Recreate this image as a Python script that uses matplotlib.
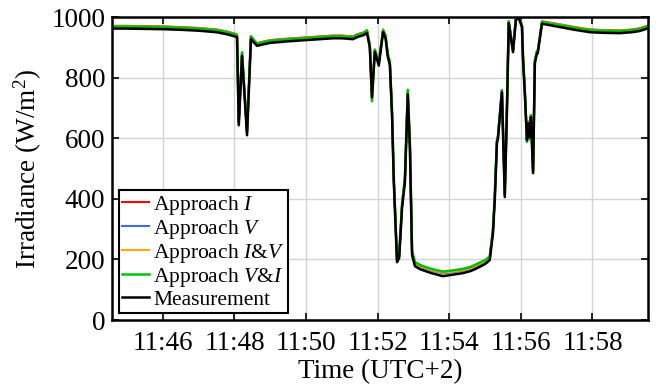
import matplotlib
matplotlib.use('Agg')
import matplotlib.pyplot as plt

plt.rcParams['font.family'] = ['Liberation Serif', 'DejaVu Serif']
plt.rcParams['mathtext.fontset'] = 'custom'
plt.rcParams['mathtext.rm'] = 'Liberation Serif'
plt.rcParams['mathtext.it'] = 'Liberation Serif:italic'

# time in minutes after 11:00 (UTC+2)
minutes = [44.58, 45.0, 45.5, 46.0, 46.5, 47.0, 47.5, 47.8, 48.07, 48.12,
           48.21, 48.35, 48.46, 48.55, 48.63, 48.8, 49.0, 49.5, 50.0, 50.75,
           51.0, 51.31, 51.45, 51.6, 51.7, 51.78, 51.84, 51.92, 52.03, 52.15,
           52.22, 52.28, 52.34, 52.4, 52.45, 52.54, 52.6, 52.68, 52.76, 52.84,
           52.9, 52.96, 53.04, 53.18, 53.5, 53.82, 54.1, 54.38, 54.6, 54.77,
           55.0, 55.13, 55.22, 55.27, 55.33, 55.36, 55.47, 55.55, 55.61, 55.66,
           55.78, 55.86, 55.94, 56.03, 56.06, 56.11, 56.17, 56.2, 56.25, 56.28,
           56.34, 56.39, 56.45, 56.47, 56.59, 57.09, 57.5, 57.93, 58.3, 58.77,
           59.1, 59.32, 59.55]

measurement = [962, 962, 961, 960, 958, 955, 950, 943, 934, 643,
               872, 610, 928, 915, 905, 910, 915, 920, 924, 930,
               930, 927, 935, 940, 948, 900, 735, 885, 840, 950,
               930, 870, 842, 677, 455, 191, 205, 370, 455, 745,
               568, 215, 178, 168, 155, 145, 150, 155, 162, 171,
               185, 198, 287, 396, 584, 600, 752, 406, 693, 980,
               884, 990, 997, 967, 858, 749, 594, 650, 604, 670,
               485, 848, 881, 880, 978, 967, 958, 950, 948, 947,
               950, 954, 963]

approach_i = [971, 971, 970, 969, 967, 964, 959, 952, 943, 652,
              882, 620, 937, 924, 914, 919, 924, 929, 933, 939,
              939, 936, 944, 949, 957, 908, 740, 893, 849, 959,
              939, 879, 851, 687, 465, 198, 212, 380, 465, 755,
              577, 224, 189, 179, 166, 157, 161, 166, 173, 182,
              195, 208, 297, 406, 592, 609, 760, 414, 702, 987,
              892, 997, 1000, 975, 866, 757, 600, 657, 610, 677,
              492, 856, 889, 888, 986, 976, 967, 959, 957, 956,
              959, 963, 972]

approach_v = [968, 968, 967, 966, 964, 961, 956, 949, 940, 648,
              878, 616, 934, 921, 911, 916, 921, 926, 930, 936,
              936, 933, 941, 946, 954, 905, 738, 890, 846, 956,
              936, 876, 848, 683, 461, 196, 210, 376, 461, 751,
              574, 221, 186, 176, 163, 154, 158, 163, 170, 179,
              192, 205, 293, 402, 590, 606, 758, 411, 699, 985,
              890, 995, 1000, 973, 864, 755, 598, 655, 608, 675,
              490, 854, 887, 886, 984, 973, 964, 956, 954, 953,
              956, 960, 969]

approach_iv = [970, 970, 969, 968, 966, 963, 958, 951, 942, 650,
               880, 618, 936, 923, 913, 918, 923, 928, 932, 938,
               938, 935, 943, 948, 956, 907, 738, 892, 848, 958,
               938, 878, 850, 685, 463, 197, 211, 378, 463, 753,
               576, 223, 188, 178, 165, 156, 160, 165, 172, 181,
               194, 207, 295, 404, 590, 607, 758, 412, 700, 986,
               891, 996, 1000, 974, 865, 756, 599, 656, 609, 676,
               491, 855, 888, 887, 985, 975, 966, 958, 956, 955,
               958, 962, 971]

approach_vi = [969, 969, 968, 967, 965, 962, 957, 950, 941, 655,
               884, 625, 936, 922, 912, 917, 922, 927, 931, 937,
               937, 934, 942, 947, 955, 905, 722, 892, 848, 957,
               938, 880, 850, 690, 470, 200, 215, 385, 470, 760,
               580, 228, 192, 182, 169, 160, 164, 169, 176, 185,
               198, 210, 300, 410, 590, 608, 758, 415, 700, 985,
               890, 995, 1000, 972, 865, 752, 588, 645, 598, 675,
               492, 855, 888, 887, 984, 973, 965, 957, 955, 954,
               957, 961, 970]

tick_minutes = [46, 48, 50, 52, 54, 56, 58]
tick_labels = ['11:46', '11:48', '11:50', '11:52', '11:54', '11:56', '11:58']

fig = plt.figure(figsize=(6.67, 3.88), dpi=100)
ax = fig.add_axes([0.168, 0.175, 0.8035, 0.781])

ax.plot(minutes, approach_i, color='#ff0000', lw=1.5, label='Approach $I$')
ax.plot(minutes, approach_v, color='#4169e1', lw=1.5, label='Approach $V$')
ax.plot(minutes, approach_iv, color='#ffa500', lw=1.5, label='Approach $I$&$V$')
ax.plot(minutes, approach_vi, color='#00c000', lw=1.8, label='Approach $V$&$I$')
ax.plot(minutes, measurement, color='black', lw=1.8, label='Measurement')

ax.set_xlim(44.58, 59.55)
ax.set_ylim(0, 1000)
ax.set_xticks(tick_minutes)
ax.set_xticklabels(tick_labels)
ax.set_yticks([0, 200, 400, 600, 800, 1000])
ax.tick_params(direction='in', top=True, right=True, length=5, width=1.2,
               labelsize=19.5, pad=5)
ax.tick_params(axis='x', pad=8)
ax.grid(True, color='#d4d4d4', lw=1)
for s in ax.spines.values():
    s.set_linewidth(1.8)

ax.set_xlabel('Time (UTC+2)', fontsize=19.5, labelpad=2)
ax.set_ylabel('Irradiance (W/m$^2$)', fontsize=19.5, labelpad=5)

leg = ax.legend(loc='lower left', bbox_to_anchor=(0.013, 0.023), borderaxespad=0,
                fontsize=15.5, fancybox=False, framealpha=1, edgecolor='black',
                handlelength=1.25, handletextpad=0.2, labelspacing=0.05,
                borderpad=0.15)
leg.get_frame().set_linewidth(1.5)

fig.savefig('out.png', dpi=100)
